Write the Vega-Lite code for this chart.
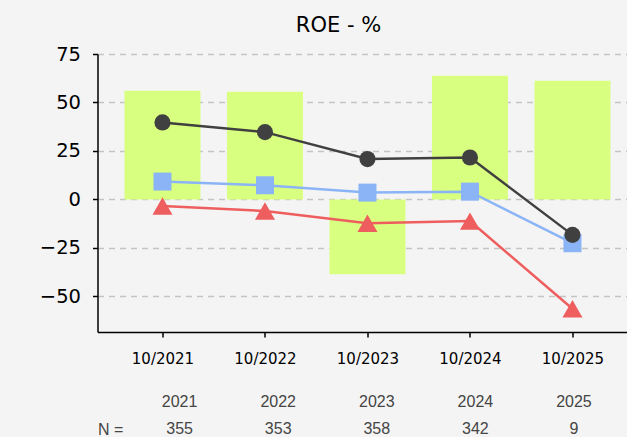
{
  "$schema": "https://vega.github.io/schema/vega-lite/v6.json",
  "background": "#f4f4f4",
  "padding": {"left": 38.5, "top": 15, "right": 0, "bottom": 0},
  "config": {
    "font": "DejaVu Sans",
    "view": {"stroke": null},
    "concat": {"spacing": 28}
  },
  "datasets": {
    "roe": [
      {"year": 2021, "bar": 56.0, "black": 39.7, "blue": 9.2, "red": -3.4},
      {"year": 2022, "bar": 55.5, "black": 34.7, "blue": 7.3, "red": -6.0},
      {"year": 2023, "bar": -38.6, "black": 20.8, "blue": 3.5, "red": -12.3},
      {"year": 2024, "bar": 63.8, "black": 21.6, "blue": 4.0, "red": -11.2},
      {"year": 2025, "bar": 61.2, "black": -18.3, "blue": -22.6, "red": -56.4}
    ],
    "counts": [
      {"year": 2021, "n": 355},
      {"year": 2022, "n": 353},
      {"year": 2023, "n": 358},
      {"year": 2024, "n": 342},
      {"year": 2025, "n": 9}
    ]
  },
  "resolve": {"scale": {"x": "independent", "y": "independent"}},
  "vconcat": [
    {
      "width": 530,
      "height": 278,
      "title": {"text": "ROE - %", "fontSize": 21, "fontWeight": "normal", "color": "#000000", "font": "DejaVu Sans", "offset": 8, "dx": -24},
      "data": {"name": "roe"},
      "encoding": {
        "x": {
          "field": "year", "type": "quantitative",
          "scale": {"domain": [2020.366, 2025.537], "nice": false, "zero": false, "padding": 0},
          "axis": {
            "title": null, "values": [2021, 2022, 2023, 2024, 2025],
            "labelExpr": "'10/' + datum.value",
            "grid": false, "tickSize": 5, "labelPadding": 14, "labelFontSize": 15,
            "labelColor": "#000000", "domainColor": "#000000", "domainWidth": 1.5,
            "tickColor": "#000000", "tickWidth": 1.5, "labelFlush": false
          }
        }
      },
      "layer": [
        {
          "mark": {"type": "bar", "width": 76, "color": "#d9ff80"},
          "encoding": {
            "y": {
              "field": "bar", "type": "quantitative",
              "scale": {"domain": [-68.4, 75], "nice": false, "padding": 0},
              "axis": {
                "title": null, "values": [-50, -25, 0, 25, 50, 75],
                "tickSize": 5, "labelPadding": 12, "labelFontSize": 19.5,
                "labelColor": "#000000", "domainColor": "#000000", "domainWidth": 1.5,
                "tickColor": "#000000", "tickWidth": 1.5,
                "gridColor": "#c4c4c4", "gridDash": [6, 5], "gridWidth": 1.3,
                "labelFlush": false
              }
            }
          }
        },
        {
          "mark": {"type": "line", "color": "#ee5e5e", "strokeWidth": 2.5},
          "encoding": {"y": {"field": "red", "type": "quantitative"}}
        },
        {
          "mark": {"type": "point", "shape": "triangle-up", "filled": true, "size": 400, "color": "#ee5e5e", "opacity": 1},
          "encoding": {"y": {"field": "red", "type": "quantitative"}}
        },
        {
          "mark": {"type": "line", "color": "#8ab4f6", "strokeWidth": 2.5},
          "encoding": {"y": {"field": "blue", "type": "quantitative"}}
        },
        {
          "mark": {"type": "point", "shape": "square", "filled": true, "size": 324, "color": "#8ab4f6", "opacity": 1},
          "encoding": {"y": {"field": "blue", "type": "quantitative"}}
        },
        {
          "mark": {"type": "line", "color": "#404040", "strokeWidth": 2.5},
          "encoding": {"y": {"field": "black", "type": "quantitative"}}
        },
        {
          "mark": {"type": "point", "shape": "circle", "filled": true, "size": 260, "color": "#404040", "opacity": 1},
          "encoding": {"y": {"field": "black", "type": "quantitative"}}
        }
      ]
    },
    {
      "width": 530,
      "height": 27,
      "data": {"name": "counts"},
      "encoding": {
        "x": {
          "field": "year", "type": "quantitative",
          "scale": {"domain": [2020.167, 2025.543], "nice": false, "zero": false},
          "axis": null
        }
      },
      "layer": [
        {
          "mark": {"type": "text", "font": "Liberation Sans", "fontSize": 16, "color": "#444444", "baseline": "middle"},
          "encoding": {
            "y": {
              "datum": "year", "type": "nominal",
              "scale": {"domain": ["year", "N"], "type": "point", "padding": 0},
              "axis": {
                "title": null, "domain": false, "ticks": false, "grid": false,
                "labelExpr": "datum.value == 'N' ? 'N =' : ''",
                "labelAlign": "left", "labelPadding": 0,
                "labelFont": "Liberation Sans", "labelFontSize": 16, "labelColor": "#444444"
              }
            },
            "text": {"field": "year", "type": "nominal"}
          }
        },
        {
          "mark": {"type": "text", "font": "Liberation Sans", "fontSize": 16, "color": "#444444", "baseline": "middle"},
          "encoding": {
            "y": {"datum": "N", "type": "nominal"},
            "text": {"field": "n", "type": "nominal"}
          }
        }
      ]
    }
  ]
}
